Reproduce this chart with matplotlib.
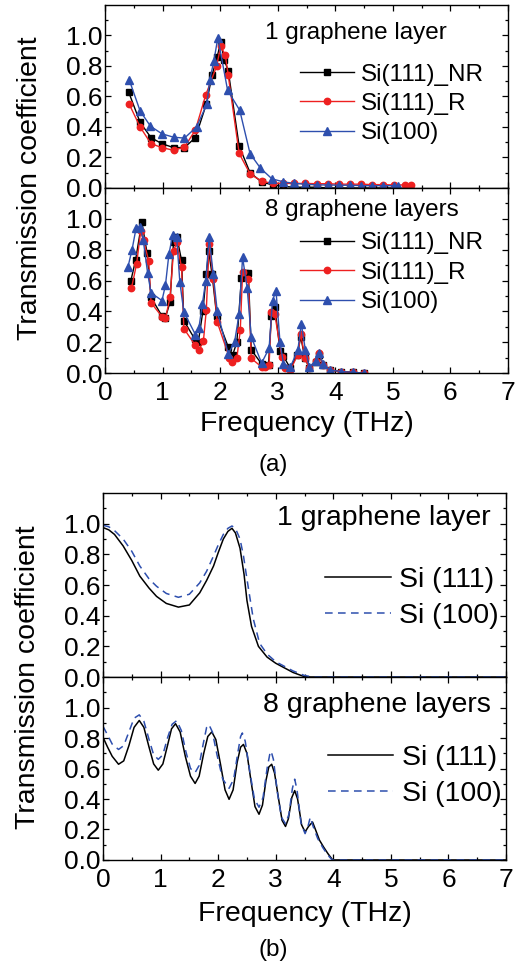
import matplotlib

matplotlib.use("Agg")
import matplotlib.pyplot as plt
from matplotlib.ticker import MultipleLocator

plt.rcParams["font.family"] = ["Liberation Sans", "DejaVu Sans"]
plt.rcParams["mathtext.default"] = "regular"

BLACK = "#000000"
RED = "#ee2020"
BLUE = "#2e4fae"

# (a) MD transmission, one graphene layer
A1_NR_X = [0.41, 0.61, 0.80, 0.99, 1.19, 1.38, 1.57, 1.76, 1.86, 1.95, 2.01, 2.07, 2.14,
           2.33, 2.52, 2.72, 2.91, 3.10, 3.29, 3.49, 3.68, 3.88, 4.07, 4.26, 4.46, 4.65,
           4.84, 5.04]
A1_NR_Y = [0.63, 0.43, 0.33, 0.29, 0.265, 0.265, 0.33, 0.55, 0.74, 0.86, 0.96, 0.84, 0.77,
           0.275, 0.10, 0.04, 0.02, 0.01, 0.005, 0.005, 0.005, 0.0, 0.0, 0.0, 0.0, 0.0,
           0.0, 0.0]
A1_R_X = [0.42, 0.61, 0.80, 0.99, 1.19, 1.38, 1.57, 1.75, 1.94, 2.01, 2.09, 2.14, 2.33,
          2.52, 2.72, 2.91, 3.10, 3.29, 3.48, 3.68, 3.87, 4.06, 4.25, 4.45, 4.64, 4.83,
          5.02, 5.21, 5.32]
A1_R_Y = [0.55, 0.40, 0.29, 0.265, 0.247, 0.268, 0.38, 0.61, 0.80, 0.93, 0.87, 0.74, 0.227,
          0.092, 0.045, 0.03, 0.03, 0.03, 0.03, 0.028, 0.028, 0.025, 0.025, 0.025, 0.022,
          0.022, 0.02, 0.02, 0.02]
A1_100_X = [0.42, 0.61, 0.79, 0.99, 1.19, 1.38, 1.59, 1.77, 1.82, 1.89, 1.96, 2.13, 2.34,
            2.52, 2.70, 2.90, 3.10, 3.29, 3.48, 3.68, 3.87, 4.06, 4.25, 4.45, 4.64, 4.83,
            5.02, 5.09]
A1_100_Y = [0.71, 0.505, 0.405, 0.355, 0.333, 0.327, 0.40, 0.55, 0.71, 0.83, 0.985, 0.64,
            0.51, 0.225, 0.13, 0.06, 0.04, 0.03, 0.025, 0.02, 0.02, 0.018, 0.018, 0.015,
            0.015, 0.015, 0.015, 0.015]

# (a) MD transmission, eight graphene layers
A8_NR_X = [0.45, 0.53, 0.64, 0.73, 0.80, 0.99, 1.05, 1.13, 1.19, 1.25, 1.33, 1.37, 1.56,
           1.62, 1.70, 1.76, 1.80, 1.86, 1.94, 2.14, 2.22, 2.29, 2.37, 2.44, 2.49, 2.54,
           2.72, 2.84, 2.89, 2.95, 3.04, 3.10, 3.22, 3.34, 3.40, 3.47, 3.55, 3.66, 3.72,
           3.79, 3.90, 4.10, 4.30, 4.50]
A8_NR_Y = [0.60, 0.73, 0.98, 0.78, 0.49, 0.37, 0.36, 0.46, 0.85, 0.88, 0.73, 0.34, 0.22,
           0.20, 0.40, 0.64, 0.79, 0.64, 0.37, 0.17, 0.12, 0.20, 0.615, 0.65, 0.65, 0.15,
           0.06, 0.05, 0.37, 0.43, 0.146, 0.11, 0.03, 0.12, 0.235, 0.10, 0.03, 0.07, 0.12,
           0.05, 0.02, 0.01, 0.005, 0.0]
A8_R_X = [0.46, 0.55, 0.62, 0.67, 0.76, 0.80, 0.995, 1.05, 1.13, 1.19, 1.245, 1.33, 1.37,
          1.56, 1.63, 1.71, 1.76, 1.81, 1.88, 1.95, 2.16, 2.20, 2.29, 2.35, 2.39, 2.49,
          2.54, 2.72, 2.78, 2.85, 2.89, 2.95, 3.07, 3.13, 3.22, 3.35, 3.40, 3.47, 3.55,
          3.66, 3.72, 3.79, 3.90, 4.10, 4.30, 4.50]
A8_R_Y = [0.55, 0.71, 0.92, 0.86, 0.725, 0.456, 0.363, 0.355, 0.49, 0.79, 0.847, 0.686,
          0.288, 0.185, 0.148, 0.21, 0.41, 0.837, 0.61, 0.33, 0.10, 0.073, 0.095, 0.28,
          0.654, 0.61, 0.095, 0.04, 0.04, 0.05, 0.395, 0.38, 0.105, 0.03, 0.02, 0.12,
          0.256, 0.10, 0.03, 0.08, 0.13, 0.05, 0.02, 0.01, 0.005, 0.0]
A8_100_X = [0.40, 0.47, 0.54, 0.61, 0.665, 0.74, 0.80, 0.99, 1.05, 1.11, 1.175, 1.245, 1.30,
            1.37, 1.57, 1.63, 1.69, 1.75, 1.81, 1.88, 1.95, 2.14, 2.25, 2.33, 2.39, 2.47,
            2.54, 2.72, 2.85, 2.91, 2.97, 3.04, 3.10, 3.22, 3.35, 3.41, 3.48, 3.55, 3.66,
            3.72, 3.79, 3.90, 4.10, 4.30, 4.50]
A8_100_Y = [0.69, 0.80, 0.94, 0.95, 0.86, 0.65, 0.52, 0.47, 0.57, 0.77, 0.895, 0.88, 0.59,
            0.395, 0.25, 0.29, 0.445, 0.60, 0.88, 0.64, 0.40, 0.125, 0.20, 0.385, 0.75,
            0.55, 0.235, 0.065, 0.16, 0.47, 0.535, 0.20, 0.06, 0.04, 0.15, 0.32, 0.15, 0.04,
            0.08, 0.13, 0.06, 0.02, 0.01, 0.005, 0.0]

# (b) lattice-dynamics transmission, one graphene layer
B1_X111 = [0.0, 0.1, 0.2, 0.35, 0.5, 0.64, 0.8, 0.93, 1.1, 1.31, 1.5, 1.68, 1.8, 1.92, 2.0,
           2.09, 2.17, 2.24, 2.30, 2.38, 2.45, 2.50, 2.58, 2.70, 2.85, 3.0, 3.15, 3.3, 3.48,
           3.6, 4.0, 5.0, 6.0, 7.0]
B1_Y111 = [0.975, 0.96, 0.93, 0.855, 0.76, 0.658, 0.58, 0.526, 0.48, 0.456, 0.47, 0.549,
           0.63, 0.724, 0.81, 0.90, 0.95, 0.97, 0.94, 0.84, 0.67, 0.50, 0.33, 0.20, 0.13,
           0.09, 0.06, 0.03, 0.005, 0.0, 0.0, 0.0, 0.0, 0.0]
B1_X100 = [0.0, 0.1, 0.2, 0.35, 0.5, 0.64, 0.8, 0.93, 1.1, 1.31, 1.5, 1.68, 1.8, 1.92, 2.0,
           2.09, 2.17, 2.24, 2.30, 2.38, 2.44, 2.50, 2.61, 2.72, 2.85, 3.0, 3.15, 3.3, 3.5,
           3.65, 4.0, 5.0, 6.0, 7.0]
B1_Y100 = [0.99, 0.98, 0.955, 0.90, 0.82, 0.724, 0.64, 0.592, 0.545, 0.52, 0.54, 0.614,
           0.69, 0.79, 0.86, 0.93, 0.97, 0.985, 0.97, 0.90, 0.79, 0.64, 0.38, 0.22, 0.15,
           0.10, 0.07, 0.04, 0.01, 0.0, 0.0, 0.0, 0.0, 0.0]

# (b) lattice-dynamics transmission, eight graphene layers
B8_X111 = [0.0, 0.08, 0.16, 0.27, 0.36, 0.45, 0.54, 0.63, 0.71, 0.80, 0.88, 0.96, 1.04,
           1.12, 1.19, 1.26, 1.34, 1.43, 1.52, 1.60, 1.67, 1.75, 1.82, 1.89, 1.96, 2.04,
           2.12, 2.19, 2.26, 2.33, 2.39, 2.44, 2.50, 2.57, 2.64, 2.71, 2.77, 2.83, 2.88,
           2.93, 2.98, 3.05, 3.11, 3.17, 3.22, 3.28, 3.33, 3.38, 3.45, 3.51, 3.57, 3.64,
           3.70, 3.76, 3.83, 3.91, 3.99, 4.5, 5.0, 6.0, 7.0]
B8_Y111 = [0.805, 0.74, 0.68, 0.628, 0.65, 0.75, 0.87, 0.915, 0.87, 0.74, 0.63, 0.589,
           0.63, 0.75, 0.86, 0.894, 0.84, 0.68, 0.55, 0.502, 0.55, 0.70, 0.81, 0.84, 0.79,
           0.63, 0.46, 0.398, 0.46, 0.64, 0.74, 0.758, 0.70, 0.52, 0.35, 0.30, 0.36, 0.52,
           0.61, 0.628, 0.57, 0.40, 0.26, 0.22, 0.27, 0.41, 0.455, 0.40, 0.23, 0.184, 0.22,
           0.249, 0.19, 0.13, 0.086, 0.04, 0.0, 0.0, 0.0, 0.0, 0.0]
B8_X100 = [0.0, 0.08, 0.16, 0.27, 0.36, 0.45, 0.54, 0.63, 0.71, 0.80, 0.88, 0.96, 1.04,
           1.12, 1.20, 1.28, 1.36, 1.44, 1.52, 1.60, 1.67, 1.74, 1.80, 1.84, 1.90, 1.98,
           2.08, 2.19, 2.27, 2.34, 2.39, 2.42, 2.47, 2.55, 2.63, 2.71, 2.78, 2.85, 2.90,
           2.92, 2.96, 3.03, 3.10, 3.17, 3.23, 3.29, 3.33, 3.37, 3.44, 3.51, 3.56, 3.60,
           3.65, 3.73, 3.82, 3.90, 3.98, 4.5, 5.0, 6.0, 7.0]
B8_Y100 = [0.877, 0.82, 0.76, 0.725, 0.75, 0.84, 0.93, 0.952, 0.91, 0.79, 0.69, 0.66,
           0.69, 0.80, 0.89, 0.914, 0.85, 0.71, 0.60, 0.573, 0.62, 0.76, 0.87, 0.888, 0.84,
           0.69, 0.53, 0.47, 0.53, 0.70, 0.81, 0.833, 0.78, 0.58, 0.40, 0.346, 0.41, 0.60,
           0.70, 0.714, 0.66, 0.44, 0.28, 0.238, 0.30, 0.47, 0.53, 0.46, 0.24, 0.173, 0.22,
           0.28, 0.22, 0.14, 0.08, 0.035, 0.0, 0.0, 0.0, 0.0, 0.0]

TICK_SIZE = 19
LABEL_SIZE = 20.5


def style_axis(ax, show_xticklabels):
    ax.set_xlim(0, 7)
    ax.set_ylim(0, 1.2)
    ax.xaxis.set_major_locator(MultipleLocator(1))
    ax.xaxis.set_minor_locator(MultipleLocator(0.5))
    ax.set_yticks([0.0, 0.2, 0.4, 0.6, 0.8, 1.0])
    ax.set_yticks([0.1, 0.3, 0.5, 0.7, 0.9, 1.1], minor=True)
    ax.yaxis.set_major_formatter(lambda v, _: f"{v:.1f}")
    ax.tick_params(which="both", direction="in", top=True, right=True, width=0.9,
                   labelsize=TICK_SIZE, pad=2)
    ax.tick_params(axis="x", which="major", pad=6)
    ax.tick_params(which="major", length=4)
    ax.tick_params(which="minor", length=2.5)
    if not show_xticklabels:
        ax.tick_params(labelbottom=False)
    for spine in ax.spines.values():
        spine.set_linewidth(1.0)


def md_panel(ax, series, title, legend_anchor):
    styles = [("Si(111)_NR", BLACK, "s", 4.2), ("Si(111)_R", RED, "o", 4.6),
              ("Si(100)", BLUE, "^", 5.2)]
    for (xs, ys), (label, color, marker, size) in zip(series, styles):
        ax.plot(xs, ys, color=color, marker=marker, markersize=size, linewidth=1.0,
                label=label)
    ax.text(0.397, legend_anchor[2], title, transform=ax.transAxes, fontsize=17.5,
            va="center", ha="left")
    ax.legend(loc="upper left", bbox_to_anchor=legend_anchor[:2], frameon=False,
              fontsize=17.5, handlelength=2.2, handletextpad=0.3, labelspacing=0.3,
              borderpad=0, borderaxespad=0)


def ld_panel(ax, series, title, text_pos, legend_anchor):
    (x1, y1), (x2, y2) = series
    ax.plot(x1, y1, color=BLACK, linewidth=1.1, label="Si (111)")
    ax.plot(x2, y2, color=BLUE, linewidth=1.1, linestyle=(0, (5, 3.5)), label="Si (100)")
    ax.text(text_pos[0], text_pos[1], title, transform=ax.transAxes, fontsize=20.5,
            va="center", ha="left")
    ax.legend(loc="upper left", bbox_to_anchor=legend_anchor, frameon=False,
              fontsize=20.5, handlelength=2.3, handletextpad=0.3, labelspacing=0.36,
              borderpad=0, borderaxespad=0)


fig = plt.figure(figsize=(5.26, 9.69), dpi=100)

# panel (a)
ax_a1 = fig.add_axes([0.1996, 0.806, 0.7662, 0.1889])
ax_a8 = fig.add_axes([0.1996, 0.615, 0.7662, 0.191])
md_panel(ax_a1, [(A1_NR_X, A1_NR_Y), (A1_R_X, A1_R_Y), (A1_100_X, A1_100_Y)],
         "1 graphene layer", (0.484, 0.68, 0.847))
md_panel(ax_a8, [(A8_NR_X, A8_NR_Y), (A8_R_X, A8_R_Y), (A8_100_X, A8_100_Y)],
         "8 graphene layers", (0.484, 0.76, 0.881))
style_axis(ax_a1, False)
style_axis(ax_a8, True)
ax_a8.set_xlabel("Frequency (THz)", fontsize=LABEL_SIZE, labelpad=4)
fig.text(0.057, 0.806, "Transmission coefficient", rotation=90, fontsize=LABEL_SIZE,
         ha="center", va="center")
fig.text(0.519, 0.52, "(a)", fontsize=17.5, ha="center", va="center")

# panel (b)
ax_b1 = fig.add_axes([0.1958, 0.3013, 0.7662, 0.1899])
ax_b8 = fig.add_axes([0.1958, 0.1125, 0.7662, 0.1888])
ld_panel(ax_b1, [(B1_X111, B1_Y111), (B1_X100, B1_Y100)], "1 graphene layer",
         (0.432, 0.864), (0.551, 0.60))
ld_panel(ax_b8, [(B8_X111, B8_Y111), (B8_X100, B8_Y100)], "8 graphene layers",
         (0.397, 0.847), (0.558, 0.63))
style_axis(ax_b1, False)
style_axis(ax_b8, True)
ax_b8.set_xlabel("Frequency (THz)", fontsize=LABEL_SIZE, labelpad=6)
fig.text(0.053, 0.3013, "Transmission coefficient", rotation=90, fontsize=LABEL_SIZE,
         ha="center", va="center")
fig.text(0.519, 0.02, "(b)", fontsize=17.5, ha="center", va="center")

fig.savefig("out.png", dpi=100)
